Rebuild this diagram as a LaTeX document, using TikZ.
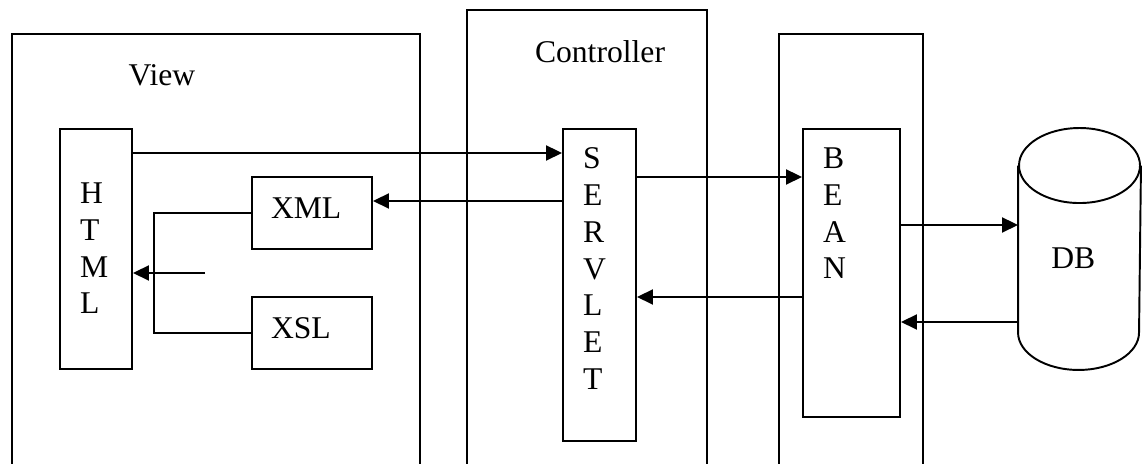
\documentclass[tikz,border=0pt]{standalone}
\usepackage{fontspec}
\setmainfont{Liberation Serif}
\usepackage{tikz}
\usetikzlibrary{shapes, arrows.meta, positioning, calc}

\begin{document}
\begin{tikzpicture}[
  font=\fontsize{18}{20.9}\selectfont,
  line width=1.1pt,
  layerbox/.style={draw, anchor=north, minimum height=9.8cm, inner sep=0pt},
  wordbox/.style={draw, inner sep=0pt},
  letters/.style={anchor=north west, inner sep=0pt, align=left, xshift=0.4cm},
  filebox/.style={draw, minimum width=2.4cm, minimum height=1.44cm, text width=1.64cm, align=left, inner xsep=0.38cm, text depth=6pt},
  arr/.style={-{Triangle[length=0.32cm, width=0.3cm]}}
]
  \useasboundingbox (0, 0) rectangle (22.84, 9.28);
  \clip (0, 0) rectangle (22.84, 9.28);

  % View
  \node[layerbox, minimum width=8.16cm] (view) at (4.32, 8.62) {};
  \node[anchor=base] (viewlbl) at (3.24, 7.56) {View};
  \node[wordbox, minimum width=1.44cm, minimum height=4.8cm,
        label={[letters, yshift=-1.08cm]north west:H\\T\\M\\L}] (html) at (1.92, 4.30) {};
  \node[filebox] (xml) at (6.24, 5.02) {XML};
  \node[filebox] (xsl) at (6.24, 2.62) {XSL};

  % Controller
  \node[layerbox, minimum width=4.8cm] (ctrl) at (11.74, 9.10) {};
  \node[anchor=base] (ctrllbl) at (12.0, 8.02) {Controller};
  \node[wordbox, minimum width=1.46cm, minimum height=6.24cm,
        label={[letters, yshift=-0.38cm]north west:S\\E\\R\\V\\L\\E\\T}] (servlet) at (11.99, 3.58) {};

  % Model
  \node[layerbox, minimum width=2.88cm] (model) at (17.02, 8.62) {};
  \node[wordbox, minimum width=1.94cm, minimum height=5.76cm,
        label={[letters, yshift=-0.38cm]north west:B\\E\\A\\N}] (bean) at (17.03, 3.82) {};

  % Database
  \node[minimum width=2.42cm, minimum height=4.8cm, inner sep=0pt] (db) at (21.59, 4.30)
    {\kern-0.25cm\raisebox{-0.18cm}[\height][0pt]{DB}};
  \draw ([yshift=-0.75cm]db.north) ellipse [x radius=1.21cm, y radius=0.75cm];
  \draw ([yshift=-0.75cm]db.north west) -- ([yshift=0.75cm]db.south west)
    arc [start angle=180, end angle=360, x radius=1.21cm, y radius=0.75cm]
    -- ([yshift=-0.75cm]db.north east);

  % View <-> Controller
  \draw[arr] (html.east |- 0,6.22) -- (servlet.west |- 0,6.22);
  \draw[arr] (servlet.west |- 0,5.26) -- (xml.east |- 0,5.26);
  \draw (xml.west) -- ++(-1.94, 0) |- (xsl.west);
  \coordinate (merge) at (4.10, 3.82);
  \draw[arr] (merge) -- (html.east |- merge);

  % Controller <-> Model
  \draw[arr] (servlet.east |- 0,5.74) -- (bean.west |- 0,5.74);
  \draw[arr] (bean.west |- 0,3.34) -- (servlet.east |- 0,3.34);

  % Model <-> Database
  \draw[arr] (bean.east |- 0,4.78) -- (db.west |- 0,4.78);
  \draw[arr] (db.west |- 0,2.84) -- (bean.east |- 0,2.84);
\end{tikzpicture}
\end{document}
